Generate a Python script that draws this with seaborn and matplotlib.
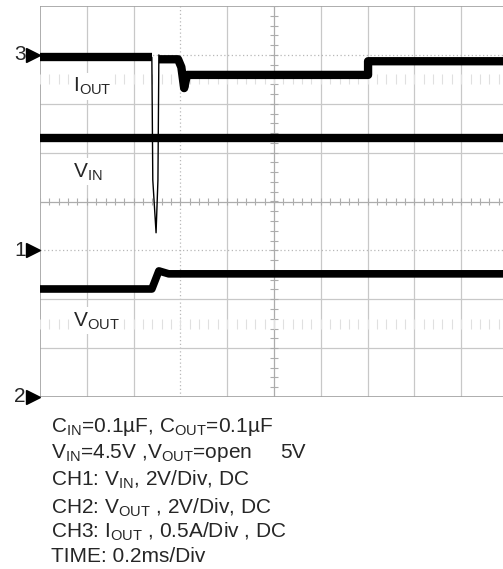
import numpy as np
import matplotlib
matplotlib.use("Agg")
import matplotlib.pyplot as plt
import seaborn as sns

sns.set_style("white")
plt.rcParams['font.family'] = ['Liberation Sans', 'DejaVu Sans']
plt.rcParams['mathtext.fontset'] = 'custom'
plt.rcParams['mathtext.rm'] = 'Liberation Sans'

# traces, in screen divisions (x: time div, y: vertical div from centre)
iout_a_t = [0.0, 2.39]
iout_a_y = [2.95, 2.95]
iout_b_t = [2.54, 2.95, 3.02, 3.08, 3.14, 7.01, 7.01, 9.95]
iout_b_y = [2.91, 2.91, 2.75, 2.32, 2.59, 2.59, 2.87, 2.87]
spike_t = [2.39, 2.41, 2.48, 2.52, 2.54]
spike_y = [2.95, 0.44, -0.64, 0.44, 3.0]
vin_t = [0.0, 9.95]
vin_y = [1.30, 1.30]
vout_t = [0.0, 2.39, 2.54, 2.75, 9.95]
vout_y = [-1.79, -1.79, -1.42, -1.48, -1.48]

ch_names = ['3', '1', '2']
ch_levels = [3.0, -1.0, -4.0]

trace_labels = [r'I$_{\rm OUT}$', r'V$_{\rm IN}$', r'V$_{\rm OUT}$']
label_y = [2.25, 0.5, -2.55]

notes = [r'C$_{\rm IN}$=0.1µF, C$_{\rm OUT}$=0.1µF',
         r'V$_{\rm IN}$=4.5V ,V$_{\rm OUT}$=open',
         r'CH1: V$_{\rm IN}$, 2V/Div, DC',
         r'CH2: V$_{\rm OUT}$ , 2V/Div, DC',
         r'CH3: I$_{\rm OUT}$ , 0.5A/Div , DC',
         'TIME: 0.2ms/Div']
note_base = [432, 458, 485, 513, 537, 562]

W, H = 503, 569
fig = plt.figure(figsize=(W / 100, H / 100), dpi=100)
ax = fig.add_axes([40 / W, 1 - 397 / H, 1 - 40 / W, (397 - 6) / H])
ax.set_xlim(0, (W - 40) / 46.8)
ax.set_ylim(-4, 4)
for s in ax.spines.values():
    s.set_visible(False)
ax.set_xticks([])
ax.set_yticks([])

# graticule
grid_c = '#c8c8c8'
for x in range(1, 10):
    if x == 3:
        ax.axvline(x, color='#b8b8b8', lw=0.9, ls=(0, (1, 2)), zorder=0)
    elif x != 5:
        ax.axvline(x, color=grid_c, lw=0.9, zorder=0)
for y in range(-3, 4):
    if y in (3, -1):
        ax.axhline(y, color='#b8b8b8', lw=0.9, ls=(0, (1, 2)), zorder=0)
    elif y != 0:
        ax.axhline(y, color=grid_c, lw=0.9, zorder=0)
ax.axvline(5, color='#acacac', lw=0.9, zorder=0)
ax.axhline(0, color='#acacac', lw=0.9, zorder=0)
ax.axhline(4, color='#a0a0a0', lw=1.2, zorder=0)
ax.axhline(-4, color='#a0a0a0', lw=1.2, zorder=0)
ax.axvline(0, color='#a0a0a0', lw=1.2, zorder=0)
tx = np.arange(0, 10.01, 0.2)
ty = np.arange(-4, 4.01, 0.2)
ax.vlines(tx, -0.08, 0.08, color='#acacac', lw=0.8, zorder=0)
ax.hlines(ty, 5 - 0.085, 5 + 0.085, color='#acacac', lw=0.8, zorder=0)
for yy in (2.5, -2.5):
    ax.vlines(tx, yy - 0.1, yy + 0.1, color='#e0e0e0', lw=0.8, zorder=0)

# traces
kw = dict(color='black', estimator=None, sort=False, legend=False, ax=ax)
sns.lineplot(x=iout_a_t, y=iout_a_y, lw=6, solid_capstyle='butt', **kw)
sns.lineplot(x=iout_b_t, y=iout_b_y, lw=6, solid_capstyle='butt', **kw)
sns.lineplot(x=spike_t, y=spike_y, lw=1.0, **kw)
sns.lineplot(x=vin_t, y=vin_y, lw=6, solid_capstyle='butt', **kw)
sns.lineplot(x=vout_t, y=vout_y, lw=5.5, solid_capstyle='butt', **kw)

for lab, ly in zip(trace_labels, label_y):
    ax.text(0.7, ly, lab, fontsize=15, va='baseline', ha='left',
            bbox=dict(facecolor='white', edgecolor='none', pad=2), zorder=3)

# channel markers
for nm, lv in zip(ch_names, ch_levels):
    ax.plot([-0.14], [lv], marker='>', ms=9.5, color='black', clip_on=False)
    ax.text(-0.3, lv, nm, fontsize=15, ha='right', va='center', clip_on=False)

for txt, b in zip(notes, note_base):
    fig.text(51 / W, 1 - b / H, txt, fontsize=15, va='baseline', ha='left')
fig.text(280 / W, 1 - note_base[1] / H, '5V', fontsize=15, va='baseline', ha='left')

fig.savefig('out.png', dpi=100)
